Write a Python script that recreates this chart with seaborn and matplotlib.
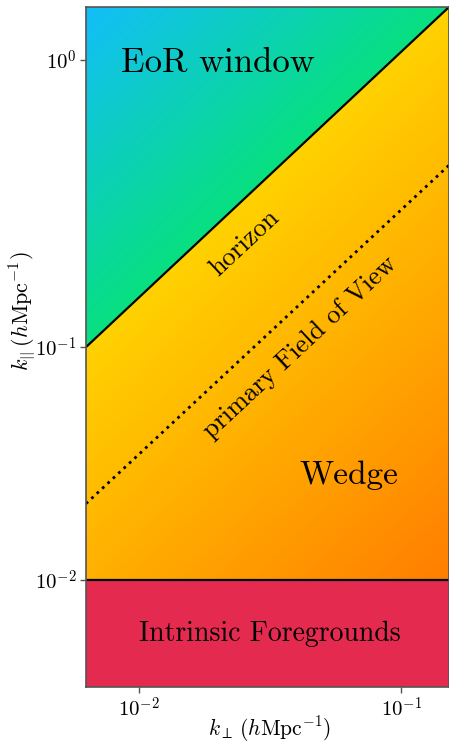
import numpy as np
import matplotlib.pyplot as plt
import seaborn as sns
from matplotlib.colors import LinearSegmentedColormap

# axis ranges (h Mpc^-1)
K_PERP_LIM = [0.00628, 0.152]
K_PAR_LIM = [0.00348, 1.53]
# horizon and primary field-of-view lines, evaluated at K_PERP_LIM
HORIZON = [0.1, 1.53]
FOV = [0.0213, 0.43]
FOREGROUND_CUT = 0.01

X_TICKS = [1e-2, 1e-1]
X_LABELS = [r"$10^{-2}$", r"$10^{-1}$"]
Y_TICKS = [1e-2, 1e-1, 1e0]
Y_LABELS = [r"$10^{-2}$", r"$10^{-1}$", r"$10^{0}$"]

EOR_COLORS = ["#12BEF9", "#08E080"]
WEDGE_COLORS = ["#FFD200", "#FF7D00"]
FG_COLOR = "#E52A50"


def y_fwd(y):
    v = np.log10(np.clip(y, 1e-12, None))
    return np.where(v >= -1, (v + 1) * 287, (v + 1) * 233)


def y_inv(p):
    return np.where(p >= 0, 10 ** (p / 287 - 1), 10 ** (p / 233 - 1))


def gradient(ax, patch, colors, s0, s1, w=363, h=680):
    # colour runs perpendicular to the horizon line (pixel space)
    px = np.linspace(0, w, 200)
    py = np.linspace(h, 0, 300)
    X, Y = np.meshgrid(px, py)
    s = 0.68 * X - 0.73 * Y
    t = np.clip((s - s0) / (s1 - s0), 0, 1)
    cmap = LinearSegmentedColormap.from_list("g", colors)
    im = ax.imshow(t, cmap=cmap, vmin=0, vmax=1, extent=[0, 1, 0, 1], transform=ax.transAxes,
                   aspect="auto", interpolation="bilinear", zorder=1)
    im.set_clip_path(patch)


def main():
    sns.set_theme(style="ticks")
    plt.rcParams["font.family"] = ["cmr10", "DejaVu Serif"]
    plt.rcParams["mathtext.fontset"] = "cm"
    plt.rcParams["axes.unicode_minus"] = False
    plt.rcParams["text.color"] = "black"
    plt.rcParams["axes.labelcolor"] = "black"
    plt.rcParams["xtick.labelcolor"] = "black"
    plt.rcParams["ytick.labelcolor"] = "black"

    fig = plt.figure(figsize=(4.49, 7.46), dpi=100)
    ax = fig.add_axes([86 / 449, 59 / 746, 363 / 449, 680 / 746])
    ax.set_xscale("log")
    ax.set_yscale("function", functions=(y_fwd, y_inv))
    ax.set_xlim(K_PERP_LIM)
    ax.set_ylim(K_PAR_LIM)

    x0, x1 = K_PERP_LIM
    yb, yt = K_PAR_LIM
    eor = ax.fill([x0, x1, x0], [HORIZON[0], HORIZON[1], yt], color="none", lw=0)[0]
    wedge = ax.fill([x0, x0, x1, x1], [FOREGROUND_CUT, HORIZON[0], HORIZON[1], FOREGROUND_CUT],
                    color="none", lw=0)[0]
    ax.fill([x0, x1, x1, x0], [yb, yb, FOREGROUND_CUT, FOREGROUND_CUT], color=FG_COLOR, lw=0, zorder=1)
    gradient(ax, eor, EOR_COLORS, -496, -249)
    gradient(ax, wedge, WEDGE_COLORS, -249, 175)

    sns.lineplot(x=K_PERP_LIM, y=HORIZON, color="black", lw=1.6, ax=ax, zorder=3)
    sns.lineplot(x=K_PERP_LIM, y=FOV, color="black", lw=2, ls=":", ax=ax, zorder=3)
    ax.axhline(FOREGROUND_CUT, color="black", lw=1.6, zorder=3)

    ax.text(0.364, 0.918, "EoR window", transform=ax.transAxes, fontsize=25, ha="center", va="center")
    ax.text(0.438, 0.653, "horizon", transform=ax.transAxes, fontsize=19, ha="center", va="center",
            rotation=43, rotation_mode="anchor")
    ax.text(0.59, 0.499, "primary Field of View", transform=ax.transAxes, fontsize=19, ha="center",
            va="center", rotation=43, rotation_mode="anchor")
    ax.text(0.725, 0.312, "Wedge", transform=ax.transAxes, fontsize=24, ha="center", va="center")
    ax.text(0.507, 0.078, "Intrinsic Foregrounds", transform=ax.transAxes, fontsize=20, ha="center",
            va="center")

    ax.set_xticks(X_TICKS, labels=X_LABELS)
    ax.set_yticks(Y_TICKS, labels=Y_LABELS)
    ax.minorticks_off()
    ax.tick_params(labelsize=15, length=4, width=1, color="#555555", pad=3)
    ax.set_xlabel(r"$k_\perp\,(h\mathrm{Mpc}^{-1})$", fontsize=15.5)
    ax.set_ylabel(r"$k_{||}\,(h\mathrm{Mpc}^{-1})$", fontsize=16)
    ax.xaxis.set_label_coords(0.505, -0.04)
    ax.yaxis.set_label_coords(-0.135, 0.553)
    for sp in ax.spines.values():
        sp.set_color("#555555")
        sp.set_linewidth(1.2)
        sp.set_zorder(4)
    ax.grid(False)

    fig.savefig("out.png", dpi=100)


if __name__ == "__main__":
    main()
